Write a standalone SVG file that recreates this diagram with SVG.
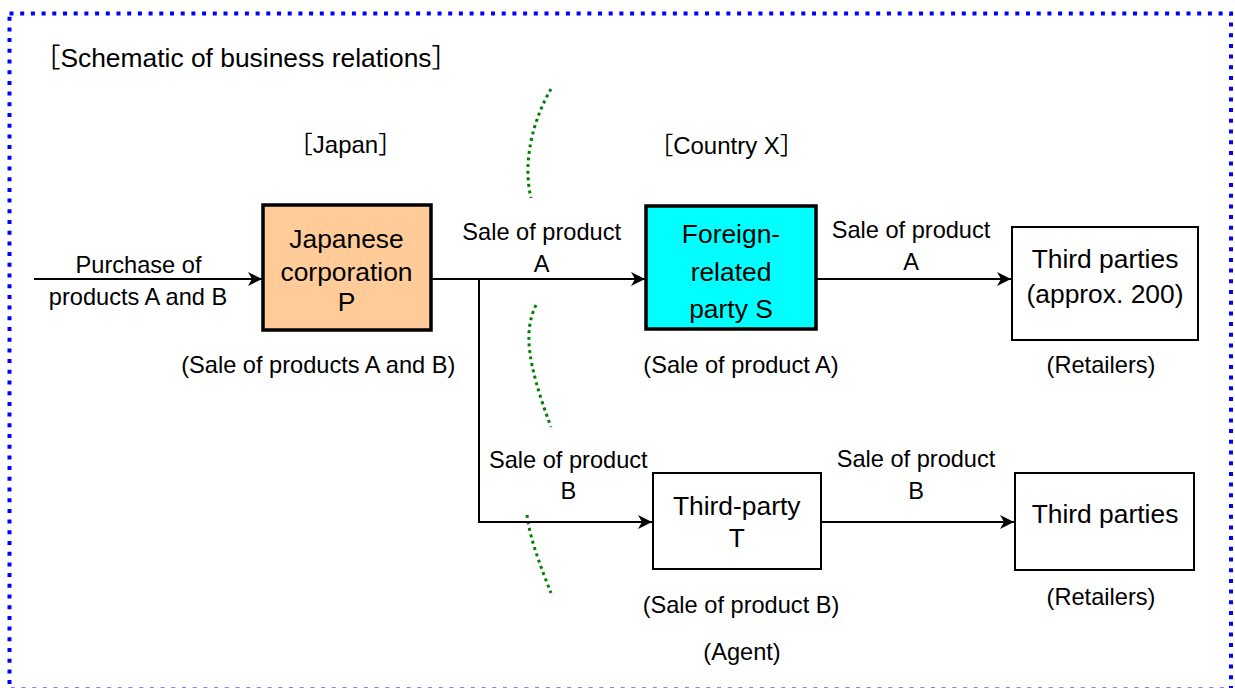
<svg xmlns="http://www.w3.org/2000/svg" width="1235" height="688" viewBox="0 0 1235 688">
<style>
text{font-family:"Liberation Sans",Arial,"Noto Sans CJK JP",sans-serif;fill:#000}
.lbl{font-size:23.6px;text-anchor:middle}
.box{font-size:26.4px;text-anchor:middle}
.hd{font-size:24px;text-anchor:middle}
.conn{fill:none;stroke:#000;stroke-width:2}
.border{fill:none;stroke:#0000FF;stroke-width:4;stroke-dasharray:4 6.7}
.green{fill:none;stroke:#008000;stroke-width:3;stroke-dasharray:3 3.6}
.thick{stroke:#000;stroke-width:3.5}
.thin{fill:#fff;stroke:#000;stroke-width:2}
</style>
<defs>
<marker id="arr" markerUnits="userSpaceOnUse" viewBox="0 0 14 14" refX="14" refY="7" markerWidth="14" markerHeight="14" orient="auto">
<path d="M0,0 L14,7 L0,14 L4,7 z" fill="#000"/>
</marker>
</defs>
<rect width="1235" height="688" fill="#fff"/>
<rect class="border" x="9.5" y="13.5" width="1221.5" height="676"/>
<text x="34" y="67" style="font-size:26.4px">［Schematic of business relations］</text>
<text class="hd" x="345.5" y="153">［Japan］</text>
<text class="hd" x="726.5" y="154">［Country X］</text>
<g id="borders">
<path class="green" d="M551,89 C534,118 522,160 531,198"/>
<path class="green" d="M536,305 C524,330 526,360 551,427"/>
<path class="green" d="M527,515 C530,540 542,570 551,593"/>
</g>
<g id="connectors">
<path class="conn" d="M34,279 H262" marker-end="url(#arr)"/>
<path class="conn" d="M431,279 H645" marker-end="url(#arr)"/>
<path class="conn" d="M816,279 H1011" marker-end="url(#arr)"/>
<path class="conn" d="M479,279 V522 H652" marker-end="url(#arr)"/>
<path class="conn" d="M821,522 H1014" marker-end="url(#arr)"/>
<text class="lbl" x="138.5" y="273">Purchase of</text>
<text class="lbl" x="138" y="305">products A and B</text>
<text class="lbl" x="541.7" y="240">Sale of product</text>
<text class="lbl" x="541.7" y="272">A</text>
<text class="lbl" x="911" y="238">Sale of product</text>
<text class="lbl" x="911" y="270">A</text>
<text class="lbl" x="568.3" y="468">Sale of product</text>
<text class="lbl" x="568.3" y="499">B</text>
<text class="lbl" x="916" y="467">Sale of product</text>
<text class="lbl" x="916" y="499">B</text>
</g>
<g id="nodeP">
<rect class="thick" x="263" y="205" width="168" height="125" fill="#FFCC99"/>
<text class="box" x="346.5" y="248">Japanese</text>
<text class="box" x="346.5" y="281">corporation</text>
<text class="box" x="346.5" y="311">P</text>
<text class="lbl" x="318.3" y="373">(Sale of products A and B)</text>
</g>
<g id="nodeS">
<rect class="thick" x="646" y="206" width="170" height="123" fill="#00FFFF"/>
<text class="box" x="731" y="243">Foreign-</text>
<text class="box" x="731" y="281">related</text>
<text class="box" x="731" y="318">party S</text>
<text class="lbl" x="741" y="373">(Sale of product A)</text>
</g>
<g id="nodeThird1">
<rect class="thin" x="1012" y="227" width="186" height="113"/>
<text class="box" x="1105" y="268">Third parties</text>
<text class="box" x="1105" y="303">(approx. 200)</text>
<text class="lbl" x="1101" y="373">(Retailers)</text>
</g>
<g id="nodeT">
<rect class="thin" x="653" y="473" width="168" height="96"/>
<text class="box" x="736.7" y="515">Third-party</text>
<text class="box" x="736.7" y="547">T</text>
<text class="lbl" x="741" y="613">(Sale of product B)</text>
<text class="lbl" x="742" y="660">(Agent)</text>
</g>
<g id="nodeThird2">
<rect class="thin" x="1015" y="473" width="179" height="97"/>
<text class="box" x="1105" y="523">Third parties</text>
<text class="lbl" x="1101" y="605">(Retailers)</text>
</g>
</svg>
